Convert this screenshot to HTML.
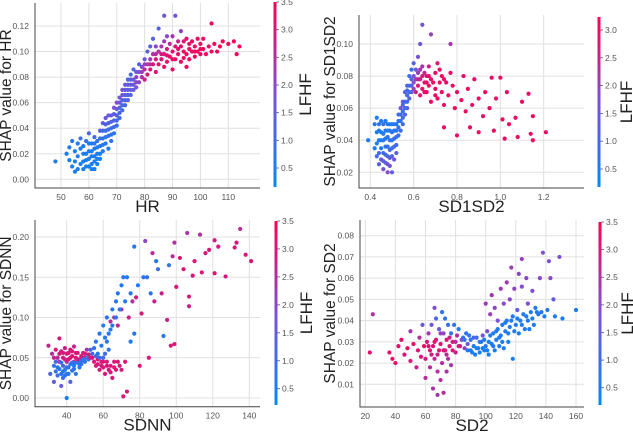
<!DOCTYPE html>
<html><head><meta charset="utf-8"><style>
body{margin:0;background:#fff;}
svg{display:block;font-family:"Liberation Sans",sans-serif;}
</style></head><body>
<svg id="chart" width="633" height="433" viewBox="0 0 633 433" xmlns="http://www.w3.org/2000/svg">
<defs><linearGradient id="cbg" x1="0" y1="1" x2="0" y2="0">
<stop offset="0" stop-color="#008afb"/><stop offset="0.5" stop-color="#7e4fd6"/><stop offset="1" stop-color="#ff0052"/></linearGradient></defs>
</svg>
<script>
// ---- data: HR panel ----
const hrPts = [[48,.014,.5],[52,.02,.5],[53,.025,.6],[53,.015,.4],[54,.03,.7],[54,.01,.5],[55,.022,.4],[55,.006,.5],[56,.018,.5],[56,.028,.6],[57,.012,.4],[57,.032,1.0],[58,.02,.5],[58,.008,.4],[58,.026,.6],[59,.015,.5],[59,.03,.8],[60,.01,.4],[60,.022,.5],[60,.036,1.2],[61,.018,.5],[61,.028,.7],[62,.008,.4],[62,.014,.5],[62,.024,.6],[62,.033,1.0],[63,.012,.5],[63,.02,.5],[63,.03,.8],[64,.016,.5],[64,.026,.6],[64,.038,1.3],[65,.022,.6],[65,.032,.9],[65,.044,1.5],[66,.028,.7],[66,.038,1.1],[66,.048,1.6],[67,.024,.6],[67,.034,.8],[67,.044,1.3],[68,.03,.7],[68,.04,1.0],[68,.05,1.6],[69,.036,.8],[69,.046,1.2],[69,.056,1.8],[70,.042,.9],[70,.05,1.3],[70,.06,1.9],[71,.048,1.0],[71,.056,1.2],[71,.064,1.8],[72,.054,1.0],[72,.062,1.4],[72,.07,1.7],[73,.058,1.1],[73,.066,1.4],[73,.074,1.6],[74,.062,1.2],[74,.07,1.4],[74,.078,1.2],[75,.066,1.3],[75,.074,1.6],[75,.082,1.1],[76,.07,1.5],[76,.078,1.7],[76,.086,1.2],[77,.072,1.8],[77,.08,2.0],[78,.076,2.2],[78,.084,1.8],[78,.09,1.3],[79,.08,2.4],[79,.088,1.9],[80,.078,2.8],[80,.086,2.6],[80,.094,1.6],[81,.082,3.0],[81,.09,2.4],[81,.1,1.4],[82,.086,3.0],[82,.094,2.2],[82,.104,1.4],[83,.09,3.0],[83,.098,2.4],[83,.11,1.3],[84,.084,3.1],[84,.094,3.0],[84,.104,2.0],[85,.09,3.2],[85,.1,2.5],[85,.118,1.3],[86,.094,3.1],[86,.104,2.4],[87,.088,3.2],[87,.098,3.0],[87,.108,2.2],[87,.128,1.5],[88,.092,3.2],[88,.102,2.8],[88,.112,2.0],[89,.096,3.2],[89,.106,2.6],[90,.086,3.3],[90,.1,3.1],[90,.112,2.3],[91,.094,3.2],[91,.104,3.0],[91,.128,1.7],[92,.098,3.2],[92,.108,2.8],[93,.092,3.3],[93,.104,3.2],[93,.116,2.0],[94,.1,3.3],[94,.108,3.0],[95,.088,3.3],[95,.098,3.3],[95,.11,3.2],[96,.102,3.3],[96,.094,3.3],[97,.1,3.3],[97,.108,3.2],[98,.096,3.3],[98,.104,3.3],[99,.1,3.3],[99,.11,3.2],[100,.098,3.3],[100,.106,3.3],[101,.102,3.3],[101,.11,3.3],[102,.098,3.3],[103,.104,3.3],[104,.122,3.3],[104,.1,3.3],[105,.106,3.4],[106,.1,3.4],[107,.104,3.4],[108,.108,3.4],[110,.106,3.4],[112,.108,3.4],[113,.098,3.4],[114,.104,3.4],
[55,.014,.5],[56,.008,.5],[57,.024,.5],[58,.014,.5],[59,.02,.5],[59,.01,.5],[60,.016,.5],[60,.028,.6],[61,.008,.5],[61,.012,.5],[61,.022,.5],[62,.018,.5],[62,.028,.7],[63,.025,.6],[63,.016,.5],[64,.02,.5],[64,.032,.8],[65,.027,.6],[65,.038,1.0],[66,.033,.8],[66,.043,1.2],[67,.039,.9],[67,.05,1.5],[68,.035,.8],[68,.045,1.2],[69,.041,1.0],[69,.051,1.4],[70,.046,1.1],[70,.055,1.5],[71,.052,1.1],[71,.06,1.5],[72,.058,1.2],[72,.066,1.5],[73,.062,1.2],[73,.07,1.5],[74,.066,1.3],[74,.074,1.5],[75,.07,1.4],[75,.078,1.4],[76,.074,1.6],[77,.076,1.9],[77,.084,1.6],[79,.084,2.2],[80,.09,2.2],[82,.09,2.6],[84,.098,2.6],[86,.098,2.9],[88,.097,3.1],[90,.094,3.2],[92,.102,3.1],[94,.095,3.3],[96,.106,3.2],[98,.1,3.3],[100,.102,3.3]];
const hrXTicks = [50,60,70,80,90,100,110];
const hrYTicks = [0,0.02,0.04,0.06,0.08,0.10,0.12];
const hrCTicks = [0.5,1.0,1.5,2.0,2.5,3.0,3.5];
// ---- data: SD1SD2 panel ----
const sdrPts = [[.39,.04,.5],[.42,.05,.6],[.42,.035,.5],[.43,.045,.5],[.43,.03,1.0],[.43,.054,.6],[.44,.04,.5],[.44,.025,1.2],[.44,.05,.7],[.45,.035,.6],[.45,.045,.5],[.45,.028,1.4],[.46,.04,.6],[.46,.05,.8],[.46,.022,1.6],[.46,.032,1.0],[.47,.036,.7],[.47,.046,.6],[.47,.026,1.3],[.48,.02,1.8],[.48,.03,1.1],[.48,.042,.8],[.48,.05,.6],[.49,.034,.9],[.49,.046,.7],[.49,.024,1.5],[.5,.02,1.3],[.5,.04,.8],[.5,.05,.6],[.5,.03,1.2],[.51,.036,1.0],[.51,.046,.7],[.52,.042,.8],[.52,.05,.6],[.52,.032,1.2],[.53,.048,.8],[.53,.056,1.0],[.54,.046,1.0],[.54,.052,.8],[.54,.06,1.5],[.55,.05,1.0],[.55,.058,.9],[.55,.064,1.5],[.56,.056,1.1],[.56,.064,.8],[.56,.07,1.3],[.57,.06,1.2],[.57,.068,.9],[.57,.074,1.1],[.58,.066,1.2],[.58,.074,.9],[.58,.08,1.0],[.59,.07,1.5],[.59,.078,1.2],[.59,.084,.9],[.6,.072,2.0],[.6,.08,1.6],[.6,.088,1.2],[.61,.07,2.6],[.61,.078,2.2],[.62,.074,2.8],[.62,.082,2.0],[.62,.092,1.6],[.63,.068,2.9],[.63,.078,2.6],[.63,.1,1.5],[.64,.072,2.9],[.64,.086,2.2],[.64,.112,1.6],[.65,.076,2.9],[.65,.082,2.5],[.66,.07,3.0],[.66,.08,2.8],[.67,.074,3.0],[.67,.086,2.6],[.68,.064,3.0],[.68,.078,2.9],[.68,.106,2.0],[.7,.072,3.0],[.7,.082,3.0],[.71,.066,3.0],[.71,.088,2.8],[.72,.076,3.0],[.73,.08,3.0],[.73,.07,3.0],[.74,.062,3.0],[.74,.048,3.0],[.75,.076,3.0],[.76,.068,3.0],[.77,.1,2.2],[.77,.082,3.0],[.78,.074,3.0],[.79,.06,3.0],[.8,.043,3.0],[.8,.07,3.0],[.82,.065,3.0],[.83,.08,3.0],[.84,.058,3.0],[.85,.072,3.0],[.86,.048,3.0],[.87,.062,3.0],[.88,.078,3.0],[.9,.066,3.0],[.9,.045,3.0],[.92,.055,3.0],[.93,.07,3.0],[.95,.06,3.0],[.96,.079,3.0],[.97,.046,3.0],[.98,.066,3.0],[1.0,.079,3.0],[1.01,.053,3.0],[1.02,.041,3.0],[1.03,.07,3.0],[1.04,.05,3.0],[1.07,.054,3.0],[1.08,.042,3.0],[1.1,.064,3.0],[1.13,.069,3.0],[1.14,.044,3.0],[1.15,.055,3.0],[1.15,.04,3.0],[1.21,.045,3.0],
[.43,.038,.6],[.44,.046,.6],[.44,.032,.9],[.45,.052,.6],[.45,.04,.6],[.46,.044,.6],[.46,.027,1.3],[.47,.041,.6],[.47,.031,1.0],[.47,.052,.6],[.48,.036,.9],[.48,.046,.6],[.48,.025,1.6],[.49,.04,.7],[.49,.05,.6],[.49,.029,1.3],[.5,.045,.7],[.5,.035,1.0],[.51,.041,.8],[.51,.05,.6],[.51,.028,1.5],[.52,.046,.7],[.52,.037,1.0],[.53,.043,.9],[.53,.052,.7],[.54,.056,1.0],[.55,.054,1.0],[.55,.062,1.2],[.56,.06,1.0],[.57,.064,1.0],[.57,.071,1.0],[.58,.07,1.0],[.59,.074,1.3],[.6,.076,1.8],[.61,.084,1.6],[.62,.078,2.5],[.63,.084,2.2],[.64,.08,2.7],[.65,.07,3.0],[.66,.076,3.0],[.67,.08,3.0],[.69,.076,3.0],[.7,.068,3.0],[.72,.084,3.0],[.74,.078,3.0]];
const sdrXTicks = [0.4,0.6,0.8,1.0,1.2];
const sdrYTicks = [0.02,0.04,0.06,0.08,0.10];
const sdrCTicks = [0.5,1.0,1.5,2.0,2.5,3.0];
// ---- data: SDNN panel ----
const sdnnPts = [[30,.065,2.8],[31,.03,1.2],[32,.055,2.5],[33,.04,0.8],[33,.02,1.5],[34,.06,3.0],[34,.033,0.8],[35,.05,2.6],[35,.028,1.0],[36,.074,3.0],[36,.045,2.4],[36,.036,0.6],[37,.058,2.9],[37,.03,0.7],[37,.015,1.5],[38,.05,3.0],[38,.04,1.2],[38,.025,0.8],[39,.062,2.8],[39,.035,0.6],[40,.055,3.0],[40,.045,2.5],[40,.03,0.7],[40,.0,0.5],[41,.048,3.0],[41,.038,1.0],[42,.06,3.0],[42,.042,0.6],[42,.02,1.3],[43,.052,3.0],[43,.034,0.7],[44,.064,2.8],[44,.045,3.0],[44,.04,0.6],[45,.05,3.1],[45,.03,0.8],[46,.056,3.0],[46,.044,0.7],[47,.048,3.0],[47,.038,0.6],[48,.052,3.0],[48,.042,0.9],[49,.056,2.8],[50,.05,3.0],[50,.045,0.7],[51,.06,2.5],[52,.054,3.0],[52,.048,0.8],[53,.06,1.2],[54,.05,3.0],[55,.062,0.8],[55,.045,3.0],[56,.07,0.7],[56,.04,3.0],[57,.055,0.6],[57,.048,3.0],[58,.08,0.7],[58,.035,3.0],[59,.065,0.6],[59,.045,3.0],[60,.09,0.7],[60,.05,1.0],[60,.038,3.0],[61,.075,0.6],[61,.03,3.0],[62,.1,0.7],[62,.045,3.0],[63,.06,0.8],[63,.035,3.0],[64,.095,2.5],[64,.085,0.6],[64,.04,3.0],[65,.11,0.7],[65,.025,3.0],[66,.1,2.6],[66,.045,3.0],[67,.12,0.7],[67,.035,3.0],[68,.13,0.6],[68,.09,2.7],[69,.04,3.0],[70,.14,0.6],[70,.11,2.7],[71,.15,0.7],[71,.002,3.0],[72,.12,0.6],[72,.045,3.0],[73,.008,3.0],[73,.15,0.6],[74,.1,2.8],[75,.07,0.6],[75,.13,0.7],[76,.12,2.5],[77,.188,0.6],[77,.08,0.7],[78,.125,2.9],[79,.14,0.6],[80,.04,3.0],[81,.105,3.0],[82,.15,0.7],[83,.195,2.0],[84,.15,0.8],[85,.05,3.0],[86,.13,0.7],[87,.18,2.5],[88,.12,2.8],[89,.17,0.7],[90,.16,1.0],[92,.13,2.8],[93,.077,0.7],[95,.097,2.8],[96,.165,0.8],[97,.065,3.0],[98,.176,2.6],[99,.193,2.5],[99,.067,3.0],[100,.138,3.0],[102,.174,3.0],[104,.16,3.0],[106,.205,2.4],[107,.114,2.8],[107,.126,2.9],[109,.152,3.0],[110,.17,3.0],[113,.203,2.5],[114,.156,3.0],[116,.18,3.0],[118,.184,3.0],[121,.196,3.0],[121,.155,3.0],[123,.188,3.0],[127,.151,3.0],[132,.187,3.0],[133,.193,3.0],[135,.21,2.6],[138,.178,3.0],[141,.17,3.0],
[33,.05,2.8],[34,.045,1.0],[35,.038,0.7],[36,.055,3.0],[37,.044,1.0],[38,.056,3.0],[38,.033,0.7],[39,.048,2.8],[39,.028,0.8],[40,.038,0.8],[41,.056,3.0],[41,.03,0.7],[42,.05,3.0],[43,.044,0.8],[43,.058,3.0],[44,.036,0.7],[45,.044,0.8],[45,.056,3.0],[46,.048,2.8],[47,.042,0.7],[48,.046,1.0],[49,.048,0.8],[50,.055,3.0],[51,.05,1.0],[53,.05,3.0],[54,.055,1.0],[56,.052,1.0],[57,.042,3.0],[58,.05,1.0],[59,.04,3.0],[60,.045,3.0],[61,.055,1.0],[62,.04,3.0],[62,.07,0.7],[63,.08,0.7],[64,.032,3.0],[65,.09,0.7],[66,.038,3.0],[67,.1,0.7],[68,.045,3.0],[69,.11,0.7],[70,.035,3.0]];
const sdnnXTicks = [40,60,80,100,120,140];
const sdnnYTicks = [0,0.05,0.10,0.15,0.20];
const sdnnCTicks = [0.5,1.0,1.5,2.0,2.5,3.0,3.5];
// ---- data: SD2 panel ----
const sd2Pts = [[23,.025,3.2],[25,.043,2.4],[36,.025,3.2],[38,.022,3.2],[40,.02,3.2],[42,.028,3.2],[44,.031,3.2],[46,.024,3.1],[48,.027,3.2],[50,.021,3.0],[50,.035,2.3],[52,.029,3.2],[54,.018,2.8],[55,.026,3.1],[56,.032,2.5],[57,.023,3.0],[58,.038,1.5],[59,.028,3.2],[60,.013,2.6],[60,.022,2.9],[61,.03,3.0],[62,.034,2.3],[63,.018,2.6],[63,.026,3.1],[64,.038,1.6],[65,.008,2.4],[65,.028,3.1],[66,.022,2.7],[66,.046,1.8],[67,.031,3.0],[67,.041,1.2],[68,.005,2.3],[68,.016,2.5],[69,.026,3.0],[69,.036,1.6],[70,.012,2.5],[70,.029,3.1],[71,.044,0.8],[71,.02,2.5],[72,.034,2.0],[72,.006,2.5],[73,.026,3.1],[73,.041,0.8],[74,.016,2.4],[74,.031,3.0],[75,.038,1.0],[75,.022,2.5],[76,.028,3.1],[77,.034,0.9],[77,.019,2.3],[78,.03,3.0],[79,.038,0.7],[80,.025,2.8],[81,.033,2.5],[82,.036,0.7],[83,.028,2.5],[85,.032,0.8],[86,.027,2.0],[87,.034,0.7],[88,.029,1.6],[90,.026,0.6],[90,.031,0.8],[92,.028,0.6],[93,.024,0.5],[94,.032,1.2],[95,.027,0.6],[96,.025,0.5],[97,.03,0.7],[98,.033,1.6],[99,.026,0.5],[100,.028,0.6],[100,.048,2.2],[101,.035,1.8],[102,.024,0.5],[102,.03,0.6],[103,.043,2.2],[104,.029,0.5],[104,.052,2.3],[105,.034,0.6],[106,.026,0.5],[106,.046,2.0],[107,.031,0.6],[108,.04,1.8],[108,.036,0.6],[109,.028,0.5],[110,.055,2.2],[110,.033,0.6],[111,.038,0.6],[112,.048,2.0],[112,.027,0.5],[113,.035,0.6],[114,.058,2.3],[114,.04,0.6],[115,.03,0.5],[116,.05,2.0],[116,.037,0.6],[117,.065,2.2],[118,.042,0.6],[118,.022,0.5],[119,.055,2.1],[120,.038,0.6],[121,.045,1.4],[122,.062,2.0],[122,.034,0.5],[123,.04,0.6],[124,.069,2.1],[124,.056,1.9],[125,.043,0.6],[126,.036,0.6],[127,.06,2.0],[128,.048,1.8],[128,.04,0.6],[130,.044,0.6],[131,.054,1.9],[132,.038,0.5],[133,.046,0.6],[135,.043,0.6],[136,.06,2.0],[138,.072,1.8],[139,.042,0.5],[141,.045,0.7],[142,.068,1.8],[143,.06,2.0],[145,.05,1.5],[146,.042,0.5],[149,.07,1.8],[151,.041,0.5],[160,.045,0.5],
[62,.028,3.1],[64,.024,2.9],[66,.03,3.1],[68,.024,2.8],[70,.034,2.2],[72,.026,3.0],[74,.024,2.7],[76,.032,2.8],[78,.026,3.0],[80,.03,2.6],[82,.028,2.9],[84,.031,1.8],[86,.031,0.8],[88,.026,0.6],[89,.033,0.8],[91,.025,0.5],[92,.032,1.0],[94,.027,0.5],[96,.03,0.6],[98,.027,0.5],[99,.031,0.6],[101,.026,0.5],[103,.033,0.6],[105,.028,0.5],[107,.035,0.6],[109,.032,0.6],[111,.03,0.5],[113,.039,0.6],[115,.034,0.6],[117,.04,0.6],[119,.035,0.6],[121,.041,0.6],[124,.038,0.6],[127,.042,0.6],[129,.036,0.5],[131,.041,0.6],[134,.044,0.6],[137,.044,0.6]];
const sd2XTicks = [20,40,60,80,100,120,140,160];
const sd2YTicks = [0.01,0.02,0.03,0.04,0.05,0.06,0.07,0.08];
const sd2CTicks = [0.5,1.0,1.5,2.0,2.5,3.0,3.5];

const NS = "http://www.w3.org/2000/svg";
const svg = document.getElementById('chart');
function mk(tag, attrs, parent){const e=document.createElementNS(NS,tag);for(const k in attrs)e.setAttribute(k,attrs[k]);(parent||svg).appendChild(e);return e;}
function lerp(a,b,t){return a+(b-a)*t;}
function cmap(t){t=Math.max(0,Math.min(1,t));const A=[0,138,251],M=[126,79,214],B=[255,0,82];let r,g,b;
 if(t<0.5){const u=t/0.5;r=lerp(A[0],M[0],u);g=lerp(A[1],M[1],u);b=lerp(A[2],M[2],u);}else{const u=(t-0.5)/0.5;r=lerp(M[0],B[0],u);g=lerp(M[1],B[1],u);b=lerp(M[2],B[2],u);}
 return `rgb(${r|0},${g|0},${b|0})`;}

function panel(cfg){
 const g = mk('g',{});
 
 
 const sx=v=>cfg.px0+(v-cfg.x0)*(cfg.px1-cfg.px0)/(cfg.x1-cfg.x0);
 const sy=v=>cfg.py0+(v-cfg.y0)*(cfg.py1-cfg.py0)/(cfg.y1-cfg.y0);
 cfg.xt.forEach(t=>{const x=sx(t);
  const l=mk('line',{x1:x,x2:x,y1:cfg.top,y2:cfg.bottom,stroke:'#e0e0e0','stroke-width':1},g);
  
  
  const tx=mk('text',{x:x,y:cfg.bottom+12,'font-size':8.5,fill:'#555','text-anchor':'middle'},g);tx.textContent=cfg.fmtX(t);
  
  });
 cfg.yt.forEach(t=>{const y=sy(t);
  const l=mk('line',{x1:cfg.left,x2:cfg.right,y1:y,y2:y,stroke:'#e0e0e0','stroke-width':1},g);
  
  
  const tx=mk('text',{x:cfg.left-6,y:y+3,'font-size':8.5,fill:'#555','text-anchor':'end'},g);tx.textContent=cfg.fmtY(t);
  
  });
 cfg.pts.forEach(p=>{
  const c=mk('circle',{cx:sx(p[0]),cy:sy(p[1]),r:2.1,fill:cmap((p[2]-cfg.c0)/(cfg.c1-cfg.c0))},g);
  
  });
 const sp=mk('path',{d:`M${cfg.left},${cfg.top}V${cfg.bottom}H${cfg.right}`,fill:'none',stroke:'#444','stroke-width':1},g);
 
 
 const xl=mk('text',{x:(cfg.left+cfg.right)/2,y:cfg.bottom+24,'font-size':17,fill:'#222','text-anchor':'middle'},g);xl.textContent=cfg.xlabel;
 
 
 const ly=(cfg.top+cfg.bottom)/2;
 const yl=mk('text',{x:0,y:0,'font-size':15.5,fill:'#222','text-anchor':'middle',transform:`translate(${cfg.ylx},${ly}) rotate(-90)`},g);yl.textContent=cfg.ylabel;
 
 
 const cy=v=>cfg.cpy0+(v-cfg.cv0)*(cfg.cpy1-cfg.cpy0)/(cfg.cv1-cfg.cv0);
 const cb=mk('rect',{x:cfg.cbx-1.5,y:cfg.cbTop,width:3,height:cfg.cbBot-cfg.cbTop,fill:'url(#cbg)'},g);
 
 
 cfg.ct.forEach(t=>{const y=cy(t);
  mk('line',{x1:cfg.cbx+1.5,x2:cfg.cbx+4,y1:y,y2:y,stroke:'#555','stroke-width':0.8},g);
  const tx=mk('text',{x:cfg.cbx+6,y:y+3,'font-size':8.5,fill:'#555'},g);tx.textContent=t.toFixed(1);
  
  });
 const cl=mk('text',{x:0,y:0,'font-size':17,fill:'#222','text-anchor':'middle',transform:`translate(${cfg.cbx+cfg.clOff},${(cfg.cbTop+cfg.cbBot)/2}) rotate(-90)`},g);cl.textContent='LFHF';
 
 
}
const f2=t=>t.toFixed(2), f0=t=>String(t), f1=t=>t.toFixed(1);
panel({name:'hr',pts:hrPts,xt:hrXTicks,yt:hrYTicks,ct:hrCTicks,fmtX:f0,fmtY:f2,xlabel:'HR',ylabel:'SHAP value for HR',
 x0:50,x1:110,px0:61,px1:228.3,y0:0,y1:0.12,py0:179.3,py1:26,left:35,right:260,top:3,bottom:188,ylx:11,
 c0:0.16,c1:3.5,cbx:275,cbTop:2,cbBot:187,cv0:0.5,cv1:3.5,cpy0:168,cpy1:2,clOff:36});
panel({name:'sd1sd2',pts:sdrPts,xt:sdrXTicks,yt:sdrYTicks,ct:sdrCTicks,fmtX:f1,fmtY:f2,xlabel:'SD1SD2',ylabel:'SHAP value for SD1SD2',
 x0:0.4,x1:1.2,px0:370.3,px1:543.7,y0:0.02,y1:0.10,py0:172.3,py1:44,left:359,right:584,top:15,bottom:188,ylx:335,
 c0:0.18,c1:3.23,cbx:599,cbTop:17,cbBot:187,cv0:0.5,cv1:3.0,cpy0:169,cpy1:30,clOff:33});
panel({name:'sdnn',pts:sdnnPts,xt:sdnnXTicks,yt:sdnnYTicks,ct:sdnnCTicks,fmtX:f0,fmtY:f2,xlabel:'SDNN',ylabel:'SHAP value for SDNN',
 x0:40,x1:140,px0:66.7,px1:249.3,y0:0,y1:0.20,py0:398,py1:237,left:35,right:260,top:220,bottom:406.7,ylx:11,
 c0:0.16,c1:3.5,cbx:276,cbTop:221,cbBot:405,cv0:0.5,cv1:3.5,cpy0:388.7,cpy1:221,clOff:36});
panel({name:'sd2',pts:sd2Pts,xt:sd2XTicks,yt:sd2YTicks,ct:sd2CTicks,fmtX:f0,fmtY:f2,xlabel:'SD2',ylabel:'SHAP value for SD2',
 x0:20,x1:160,px0:365.3,px1:576,y0:0.01,y1:0.08,py0:384.3,py1:235.7,left:360,right:584,top:220,bottom:407,ylx:335,
 c0:0.16,c1:3.5,cbx:600,cbTop:222,cbBot:405,cv0:0.5,cv1:3.5,cpy0:387.7,cpy1:222,clOff:33});
</script>
</body></html>
